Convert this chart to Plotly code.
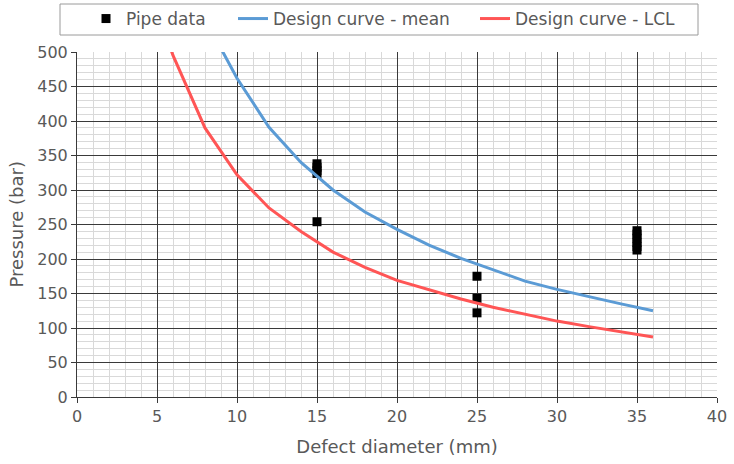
import plotly.graph_objects as go

# Pipe data (scatter)
pipe_x = [15, 15, 15, 15, 15, 25, 25, 25, 35, 35, 35, 35, 35, 35]
pipe_y = [254, 324, 328, 333, 338, 175, 143, 122, 213, 218, 224, 230, 236, 241]

# Design curve - mean
mean_x = [8, 10, 12, 14, 16, 18, 20, 22, 24, 26, 28, 30, 32, 34, 36]
mean_y = [548, 462, 391, 340, 300, 268, 243, 220, 201, 184, 168, 156, 145, 135, 125]

# Design curve - LCL
lcl_x = [5, 6, 8, 10, 12, 14, 16, 18, 20, 22, 24, 26, 28, 30, 32, 34, 36]
lcl_y = [560, 495, 390, 322, 274, 240, 210, 188, 169, 155, 142, 130, 120, 110, 102, 94, 87]

FONT = "DejaVu Sans"
TXT = "#595959"

fig = go.Figure()
fig.add_trace(go.Scatter(x=pipe_x, y=pipe_y, mode="markers", name="Pipe data",
                         marker=dict(symbol="square", size=9, color="black"),
                         legend="legend", showlegend=True, cliponaxis=False))
fig.add_trace(go.Scatter(x=mean_x, y=mean_y, mode="lines", name="Design curve - mean",
                         line=dict(color="#5b9bd5", width=3), legend="legend2", showlegend=True))
fig.add_trace(go.Scatter(x=lcl_x, y=lcl_y, mode="lines", name="Design curve - LCL",
                         line=dict(color="#ff5555", width=3), legend="legend3", showlegend=True))

L, R, T, B = 77, 17, 52, 67
W, H = 734, 464
pw = W - L - R
ph = H - T - B

def px2x(px):
    return (px - L) / pw

def py2y(py):
    return (H - B - py) / ph

leg_common = dict(font=dict(family=FONT, size=17, color=TXT), bgcolor="rgba(0,0,0,0)",
                  xref="container", yref="container",
                  yanchor="middle", y=1 - 19 / H, xanchor="left", borderwidth=0)

fig.update_layout(
    width=W, height=H,
    margin=dict(l=L, r=R, t=T, b=B, autoexpand=False),
    showlegend=True,
    paper_bgcolor="white", plot_bgcolor="white",
    font=dict(family=FONT, color=TXT, size=16),
    legend=dict(x=86 / W, **leg_common),
    legend2=dict(x=233 / W, **leg_common),
    legend3=dict(x=475 / W, **leg_common),
    xaxis=dict(range=[0, 40], dtick=5, tick0=0, showgrid=True, gridcolor="#3a3a3a", gridwidth=1,
               zeroline=False, showline=True, linecolor="#3a3a3a", linewidth=1,
               ticks="outside", ticklen=5, tickcolor="#3a3a3a",
               tickfont=dict(family=FONT, size=16, color=TXT),
               title=dict(text="Defect diameter (mm)", font=dict(family=FONT, size=18, color=TXT)),
               minor=dict(dtick=1, showgrid=True, gridcolor="#d9d9d9", gridwidth=1)),
    yaxis=dict(range=[0, 500], dtick=50, tick0=0, showgrid=True, gridcolor="#3a3a3a", gridwidth=1,
               zeroline=False, showline=True, linecolor="#3a3a3a", linewidth=1,
               ticks="outside", ticklen=5, tickcolor="#3a3a3a",
               tickfont=dict(family=FONT, size=16, color=TXT),
               minor=dict(dtick=10, showgrid=True, gridcolor="#d9d9d9", gridwidth=1)),
    annotations=[dict(text="Pressure (bar)", textangle=-90, xref="paper", yref="paper",
                      x=px2x(16), y=0.5, xanchor="center", yanchor="middle", showarrow=False,
                      font=dict(family=FONT, size=18, color=TXT))],
    shapes=[dict(type="rect", xref="paper", yref="paper",
                 x0=px2x(60), x1=px2x(698), y0=py2y(35), y1=py2y(4),
                 line=dict(color="#9a9a9a", width=1), fillcolor="rgba(0,0,0,0)", layer="above")],
)

fig.write_html("out.html", config={"displayModeBar": False},
               post_script="document.body.style.margin='0';")
